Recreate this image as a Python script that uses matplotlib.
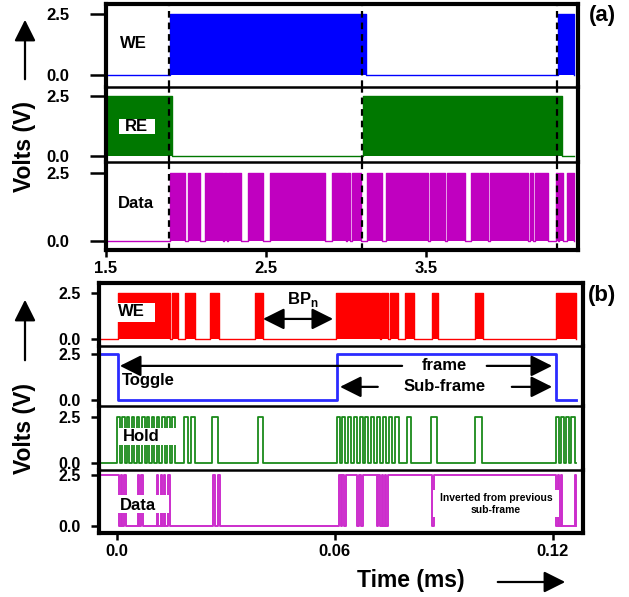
import matplotlib.pyplot as plt
from matplotlib.patches import Rectangle, FancyArrowPatch

plt.rcParams['font.family'] = ['Liberation Sans', 'DejaVu Sans']
plt.rcParams['font.weight'] = 'bold'
plt.rcParams['mathtext.fontset'] = 'custom'
plt.rcParams['mathtext.rm'] = 'Liberation Sans:bold'
plt.rcParams['mathtext.bf'] = 'Liberation Sans:bold'

HIGH = 2.5

# ---------------- panel (a) data (time in arbitrary units)
a_span = (1.5, 4.425)
a_we_high = [(1.900, 3.125), (4.325, 4.425)]
a_re_high = [(1.5, 1.9125), (3.106, 4.350)]
a_data_high = [(1.900, 1.994), (2.0125, 2.0875), (2.119, 2.231), (2.2375, 2.256),
               (2.2625, 2.344), (2.3875, 2.481), (2.525, 2.869), (2.9125, 3.000),
               (3.006, 3.025), (3.0375, 3.094), (3.131, 3.225), (3.250, 3.5125),
               (3.525, 3.619), (3.631, 3.744), (3.781, 3.8875), (3.900, 4.1375),
               (4.150, 4.169), (4.181, 4.2625), (4.3125, 4.325), (4.331, 4.356),
               (4.381, 4.425)]
a_markers = [1.895, 3.10, 4.32]
a_xticks = [1.5, 2.5, 3.5]
a_xticklabels = ['1.5', '2.5', '3.5']

# ---------------- panel (b) data (time in ms)
b_span = (-0.0049, 0.1263)
b_we_high = [(0.0002, 0.0146), (0.0152, 0.0168), (0.0187, 0.0215), (0.0256, 0.0281),
             (0.0380, 0.0402), (0.0603, 0.0724), (0.0726, 0.0747), (0.0753, 0.0774),
             (0.0793, 0.0818), (0.0866, 0.0884), (0.0985, 0.1007), (0.1208, 0.1263)]
b_toggle_high = [(-0.0049, 0.0002), (0.0606, 0.1210)]
b_hold_high = [(0.0000, 0.0007), (0.0014, 0.0021), (0.0028, 0.0034), (0.0041, 0.0048),
               (0.0055, 0.0062), (0.0069, 0.0076), (0.0083, 0.0089), (0.0096, 0.0103),
               (0.0110, 0.0117), (0.0124, 0.0131), (0.0138, 0.0145), (0.0151, 0.0160),
               (0.0184, 0.0195), (0.0204, 0.0215), (0.0261, 0.0278), (0.0388, 0.0402),
               (0.0606, 0.0613), (0.0620, 0.0627), (0.0636, 0.0644), (0.0652, 0.0661),
               (0.0669, 0.0676), (0.0683, 0.0690), (0.0699, 0.0707), (0.0716, 0.0724),
               (0.0732, 0.0740), (0.0749, 0.0757), (0.0765, 0.0776), (0.0798, 0.0809),
               (0.0864, 0.0881), (0.0985, 0.1005), (0.1208, 0.1216), (0.1222, 0.1230),
               (0.1236, 0.1244), (0.1250, 0.1261)]
b_data_high = [(-0.0049, 0.0005), (0.0010, 0.0014), (0.0019, 0.0024), (0.0058, 0.0062),
               (0.0067, 0.0072), (0.0110, 0.0114), (0.0120, 0.0124), (0.0129, 0.0133),
               (0.0140, 0.0146), (0.0264, 0.0270), (0.0278, 0.0284), (0.0611, 0.0616),
               (0.0620, 0.0625), (0.0630, 0.0662), (0.0667, 0.0671), (0.0676, 0.0715),
               (0.0719, 0.0724), (0.0729, 0.0733), (0.0738, 0.0741), (0.0747, 0.0867),
               (0.0873, 0.1208), (0.1213, 0.1217), (0.1222, 0.1226), (0.1261, 0.1263)]
b_xticks = [0.0, 0.06, 0.12]
b_xticklabels = ['0.0', '0.06', '0.12']


def square(high, span):
    # build a square wave (0 / HIGH) from a list of high intervals
    t = [span[0]]
    v = [0.0]
    for s, e in high:
        t += [s, s, e, e]
        v += [0.0, HIGH, HIGH, 0.0]
    t.append(span[1])
    v.append(0.0)
    return t, v


W, H = 629, 597
fig = plt.figure(figsize=(W / 100, H / 100), dpi=100)


def px_axes(x0, x1, y0, y1):
    return fig.add_axes([x0 / W, 1 - y1 / H, (x1 - x0) / W, (y1 - y0) / H])


def fx(px):
    return px / W


def fy(py):
    return 1 - py / H


def style_rows(axes, xlim, ylims, tick_len, tick_pad, ysize):
    n = len(axes)
    for i, ax in enumerate(axes):
        ax.set_xlim(*xlim)
        ax.set_ylim(*ylims[i])
        for s in ['left', 'right']:
            ax.spines[s].set_linewidth(3)
        ax.spines['top'].set_linewidth(3)
        ax.spines['top'].set_visible(i == 0)
        ax.spines['bottom'].set_linewidth(3 if i == n - 1 else 1.8)
        ax.set_yticks([0, HIGH])
        ax.set_yticklabels(['0.0', '2.5'])
        ax.tick_params(axis='y', direction='out', length=tick_len, width=1.8,
                       pad=tick_pad, labelsize=ysize)
        ax.tick_params(axis='x', direction='out', length=5, width=1.8, pad=3,
                       labelsize=12)
        for lab in ax.get_yticklabels():
            lab.set_fontweight('bold')
        if i < n - 1:
            ax.tick_params(axis='x', bottom=False, labelbottom=False)
        ax.patch.set_alpha(0)


def label(ax, text, x, y, box=None, size=12):
    if box is not None:
        ax.add_patch(Rectangle((box[0], box[1]), box[2], box[3], transform=ax.transAxes,
                               facecolor='white', edgecolor='none', zorder=4))
    ax.text(x, y, text, transform=ax.transAxes, fontsize=size, fontweight='bold',
            ha='left', va='center', zorder=5)


def arrow(ax, tail, tip, style='-|>'):
    ax.annotate('', xy=tip, xytext=tail,
                arrowprops=dict(arrowstyle=style + ',head_length=0.5,head_width=0.25',
                                mutation_scale=26, lw=1.6, color='k',
                                shrinkA=0, shrinkB=0), zorder=6)


# ---------------- panel (a)
a_rows = [(4, 87), (87, 162), (162, 250)]
axa = [px_axes(106, 578, y0, y1) for y0, y1 in a_rows]
style_rows(axa, (1.5, 4.45), [(-0.49, 2.91), (-0.25, 2.875), (-0.33, 2.90)], 11.5, 15, 12)

a_series = [(a_we_high, '#0000ff'), (a_re_high, '#007800'), (a_data_high, '#c000c0')]
for ax, (high, col) in zip(axa, a_series):
    t, v = square(high, a_span)
    ax.fill_between(t, v, 0, color=col, lw=0)
    ax.plot(t, v, color=col, lw=1.0)
    for m in a_markers:
        ax.axvline(m, color='k', lw=1.6, dashes=(3, 2.2), zorder=3)

axa[-1].set_xticks(a_xticks)
axa[-1].set_xticklabels(a_xticklabels, fontweight='bold')

label(axa[0], 'WE', 0.0297, 0.53)
label(axa[1], 'RE', 0.040, 0.48, box=(0.0275, 0.373, 0.076, 0.20))
label(axa[2], 'Data', 0.0254, 0.534)

# ---------------- panel (b)
b_rows = [(283, 346), (346, 406), (406, 470), (470, 533)]
axb = [px_axes(99, 583, y0, y1) for y0, y1 in b_rows]
style_rows(axb, (-0.00495, 0.1283),
           [(-0.38, 3.04), (-0.33, 2.93), (-0.38, 3.10), (-0.34, 2.745)], 6, 7, 11.5)

t, v = square(b_we_high, b_span)
axb[0].fill_between(t, v, 0, color='#ff0000', lw=0)
axb[0].plot(t, v, color='#ff0000', lw=1.0)

t, v = square(b_toggle_high, b_span)
axb[1].plot(t, v, color='#2b2bff', lw=2.0)

t, v = square(b_hold_high, b_span)
axb[2].plot(t, v, color='#1a8a1a', lw=1.3)

t, v = square(b_data_high, b_span)
axb[3].plot(t, v, color='#cc2ecc', lw=1.4)

axb[-1].set_xticks(b_xticks)
axb[-1].set_xticklabels(b_xticklabels, fontweight='bold')

label(axb[0], 'WE', 0.039, 0.54, box=(0.037, 0.381, 0.0785, 0.30))
label(axb[1], 'Toggle', 0.0475, 0.433)
label(axb[2], 'Hold', 0.0496, 0.53, box=(0.0386, 0.39, 0.125, 0.266))
label(axb[3], 'Data', 0.0434, 0.444, box=(0.0386, 0.317, 0.107, 0.286))

axb[3].add_patch(Rectangle((0.69, 0.254), 0.26, 0.43, transform=axb[3].transAxes,
                           facecolor='white', edgecolor='none', zorder=4))
axb[3].text(0.82, 0.468, 'Inverted from previous\nsub-frame', transform=axb[3].transAxes,
            fontsize=7.5, fontweight='bold', ha='center', va='center',
            linespacing=1.25, zorder=5)

# BPn double arrow
arrow(axb[0], (0.0402, 1.09), (0.0595, 1.09), style='<|-|>')
axb[0].text(0.0512, 2.17, r'BP$_{\mathbf{n}}$', fontsize=12, fontweight='bold',
            ha='center', va='center')

# frame / sub-frame arrows on the toggle row
arrow(axb[1], (0.0785, 1.85), (0.0008, 1.85))
axb[1].text(0.0901, 1.85, 'frame', fontsize=12, fontweight='bold', ha='center', va='center')
arrow(axb[1], (0.1018, 1.85), (0.1198, 1.85))
arrow(axb[1], (0.0718, 0.71), (0.0614, 0.71))
axb[1].text(0.0901, 0.71, 'Sub-frame', fontsize=12, fontweight='bold', ha='center', va='center')
arrow(axb[1], (0.1087, 0.71), (0.1198, 0.71))

# ---------------- figure-level texts and arrows
for yc, tail, tip in [(146, 82, 17), (428, 363, 297)]:
    fig.text(fx(25), fy(yc), 'Volts (V)', rotation=90, fontsize=16.5, fontweight='bold',
             ha='center', va='center')
    fig.add_artist(FancyArrowPatch((fx(25), fy(tail)), (fx(25), fy(tip)),
                                   transform=fig.transFigure,
                                   arrowstyle='-|>,head_length=0.5,head_width=0.25',
                                   mutation_scale=26, lw=1.6, color='k'))

fig.text(fx(411), fy(580), 'Time (ms)', fontsize=16.5, fontweight='bold',
         ha='center', va='center')
fig.add_artist(FancyArrowPatch((fx(495), fy(582)), (fx(568), fy(582)),
                               transform=fig.transFigure,
                               arrowstyle='-|>,head_length=0.5,head_width=0.25',
                               mutation_scale=26, lw=1.6, color='k'))

fig.text(fx(602), fy(15), '(a)', fontsize=16, fontweight='bold', ha='center', va='center')
fig.text(fx(602), fy(296), '(b)', fontsize=16, fontweight='bold', ha='center', va='center')

fig.savefig('out.png', dpi=100)
plt.close(fig)
